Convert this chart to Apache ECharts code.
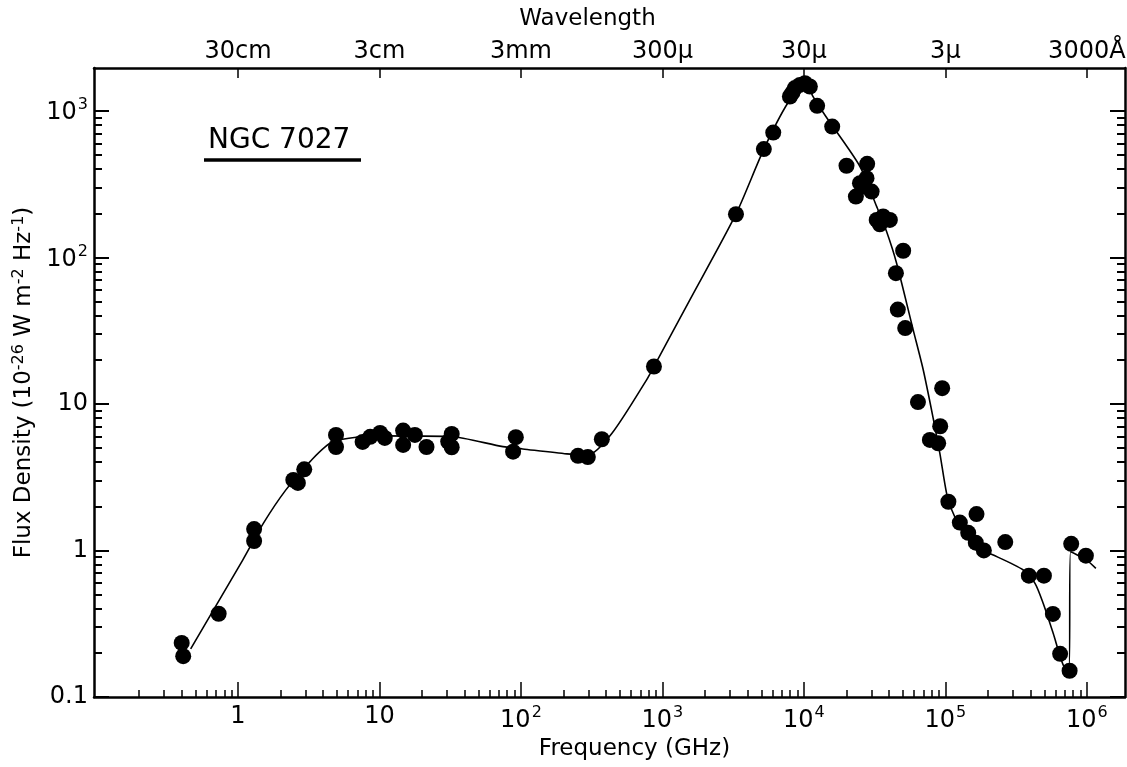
<!DOCTYPE html>
<html><head><meta charset="utf-8">
<script src="https://cdn.jsdelivr.net/npm/echarts@6.0.0/dist/echarts.min.js"></script>
<style>html,body{margin:0;padding:0;background:#fff}#c{width:1127px;height:767px}</style>
</head><body><div id="c"></div>
<script>
// Observed data points: frequency (GHz) and flux density (1e-26 W m^-2 Hz^-1)
const obsFreq = [
  0.40, 0.41, 0.73, 1.30, 1.30, 2.46, 2.65, 2.94, 4.93, 4.93,
  7.6, 8.6, 10.1, 10.9, 14.7, 14.7, 17.8, 21.5, 32.4, 30.6, 32.4,
  88, 92, 253, 297, 373, 871, 3310, 5210, 6070,
  7960, 8300, 8630, 9370, 10170, 11020, 12400, 15850, 20000, 28000,
  23300, 24900, 26100, 27700, 30100,
  32700, 34400, 36300, 40500,
  50300, 44700, 46100, 52000, 94900, 64000, 91900, 77700, 88900,
  105000, 126500, 166000, 145000, 164000, 187000, 265000, 389000, 497000,
  575000, 647000, 755000, 775000, 984000
];
const obsFlux = [
  0.234, 0.19, 0.37, 1.40, 1.16, 3.03, 2.89, 3.58, 6.14, 5.08,
  5.5, 5.96, 6.34, 5.86, 6.58, 5.25, 6.14, 5.08, 6.24, 5.53, 5.06,
  4.72, 5.93, 4.42, 4.34, 5.74, 18.0, 197, 548, 711,
  1253, 1330, 1430, 1503, 1545, 1466, 1081, 781, 422, 435,
  260, 321, 304, 347, 281,
  180, 168, 190, 180,
  111, 78, 44, 32.9, 12.8, 10.3, 7.04, 5.68, 5.39,
  2.15, 1.55, 1.77, 1.32, 1.13, 1.0, 1.14, 0.673, 0.673,
  0.369, 0.197, 0.151, 1.11, 0.922
];
// Hand-drawn fitted curve
const curveFreq = [0.463, 1.08, 1.51, 2.18, 3.23, 4.71, 10.1, 31.5, 74.6, 103, 211, 297, 440, 773, 871, 1563, 3306, 5210, 7710, 10330, 11580, 14300, 24900, 32700, 38400, 45200, 59200, 69700, 82000, 91400, 102000, 111000, 134000, 175000, 218000, 355000, 430000, 491000, 578000, 681000, 746000, 767000, 995000, 1158000];
const curveFlux = [0.213, 0.86, 1.53, 2.59, 4.04, 5.53, 6.05, 5.99, 5.11, 4.93, 4.56, 4.49, 6.31, 14.6, 18.0, 51.3, 197, 548, 1135, 1578, 1253, 914, 417, 222, 150, 91.2, 32, 17.1, 7.98, 4.6, 2.45, 1.89, 1.31, 1.01, 0.93, 0.736, 0.597, 0.436, 0.272, 0.165, 0.153, 0.98, 0.86, 0.755];

// Axis ticks and labels
const xMin = 0.096, xMax = 1.86e6;
const yMin = 0.1, yMax = 1960;
const xMajorTicks = [1, 10, 100, 1e3, 1e4, 1e5, 1e6];
const yMajorTicks = [0.1, 1, 10, 100, 1000];
const xDecades = [0.1, 1, 10, 100, 1e3, 1e4, 1e5];
const yDecades = [0.1, 1, 10, 100];
const minorMultipliers = [2, 3, 4, 5, 6, 7, 8, 9];
const wavelengthTicks = [1, 10, 100, 1e3, 1e4, 1e5, 1e6];
const wavelengthLabels = ['30cm', '3cm', '3mm', '300\u03bc', '30\u03bc', '3\u03bc', '3000\u00c5'];

const xMinorTicks = [], yMinorTicks = [];
xDecades.forEach(d => minorMultipliers.forEach(m => xMinorTicks.push(+(d * m).toPrecision(3))));
yDecades.forEach(d => minorMultipliers.forEach(m => yMinorTicks.push(+(d * m).toPrecision(3))));

const FONT = 'DejaVu Sans';
function powLabel(v) {
  const n = Math.round(Math.log10(v));
  if (n === -1) return '0.1';
  if (n === 0) return '1';
  if (n === 1) return '10';
  return '{b|10}{sup|' + n + '}';
}
const richSup = {
  b: { fontSize: 24, fontFamily: FONT, color: '#000', verticalAlign: 'bottom' },
  sup: { fontSize: 16, fontFamily: FONT, color: '#000', verticalAlign: 'bottom', padding: [0, 0, 12, 1] }
};
const lineStyle = { color: '#000', width: 2.5 };

function xAx(extra) {
  return Object.assign({ type: 'log', logBase: 10, min: xMin, max: xMax, splitLine: { show: false }, minorTick: { show: false } }, extra);
}
function yAx(extra) {
  return Object.assign({ type: 'log', logBase: 10, min: yMin, max: yMax, splitLine: { show: false }, minorTick: { show: false } }, extra);
}

const chart = echarts.init(document.getElementById('c'), null, { renderer: 'canvas' });
chart.setOption({
  backgroundColor: '#fff',
  animation: false,
  grid: { left: 94, right: 2, top: 68, bottom: 70, containLabel: false, outerBoundsMode: 'none' },
  xAxis: [
    xAx({
      position: 'bottom',
      axisLine: { show: true, lineStyle },
      axisTick: { show: true, inside: true, length: 15, customValues: xMajorTicks, lineStyle: { color: '#000', width: 1.5 } },
      axisLabel: { customValues: xMajorTicks, formatter: powLabel, color: '#000', fontSize: 24, fontFamily: FONT, margin: 8, rich: richSup },
      name: 'Frequency (GHz)', nameLocation: 'middle', nameGap: 40,
      nameTextStyle: { fontSize: 23, fontFamily: FONT, color: '#000', padding: [0, 0, 0, 50] }
    }),
    xAx({
      position: 'bottom',
      axisLine: { show: false },
      axisTick: { show: true, inside: true, length: 7, customValues: xMinorTicks, lineStyle: { color: '#000', width: 1.5 } },
      axisLabel: { show: false }
    }),
    xAx({
      position: 'top',
      axisLine: { show: true, lineStyle },
      axisTick: { show: true, inside: true, length: 10, customValues: wavelengthTicks, lineStyle: { color: '#000', width: 1.5 } },
      axisLabel: {
        customValues: wavelengthTicks, color: '#000', fontSize: 24, fontFamily: FONT, margin: 4,
        formatter: v => { const i = wavelengthTicks.findIndex(t => Math.abs(Math.log10(t) - Math.log10(v)) < 1e-6); return i >= 0 ? wavelengthLabels[i] : ''; }
      },
      name: 'Wavelength', nameLocation: 'middle', nameGap: 37,
      nameTextStyle: { fontSize: 23, fontFamily: FONT, color: '#000', padding: [0, 44, 0, 0] }
    })
  ],
  yAxis: [
    yAx({
      position: 'left',
      axisLine: { show: true, lineStyle },
      axisTick: { show: true, inside: true, length: 15, customValues: yMajorTicks, lineStyle: { color: '#000', width: 2 } },
      axisLabel: { customValues: yMajorTicks, formatter: powLabel, color: '#000', fontSize: 24, fontFamily: FONT, margin: 6, rich: richSup },
      name: 'Flux Density (10{sup|-26} W m{sup|-2} Hz{sup|-1})', nameLocation: 'middle', nameGap: 44, nameRotate: 90,
      nameTextStyle: {
        fontSize: 23, fontFamily: FONT, color: '#000',
        rich: { sup: { fontSize: 16, fontFamily: FONT, color: '#000', verticalAlign: 'bottom', padding: [0, 0, 11, 0] } }
      }
    }),
    yAx({
      position: 'left',
      axisLine: { show: false },
      axisTick: { show: true, inside: true, length: 8, customValues: yMinorTicks, lineStyle: { color: '#000', width: 2 } },
      axisLabel: { show: false }
    }),
    yAx({
      position: 'right',
      axisLine: { show: true, lineStyle },
      axisTick: { show: true, inside: true, length: 15, customValues: yMajorTicks, lineStyle: { color: '#000', width: 2 } },
      axisLabel: { show: false }
    }),
    yAx({
      position: 'right',
      axisLine: { show: false },
      axisTick: { show: true, inside: true, length: 8, customValues: yMinorTicks, lineStyle: { color: '#000', width: 2 } },
      axisLabel: { show: false }
    })
  ],
  series: [
    {
      type: 'line', xAxisIndex: 0, yAxisIndex: 0, z: 2,
      data: curveFreq.map((f, i) => [f, curveFlux[i]]),
      showSymbol: false, smooth: 0.25,
      lineStyle: { color: '#000', width: 1.6 }
    },
    {
      type: 'scatter', xAxisIndex: 0, yAxisIndex: 0, z: 3,
      data: obsFreq.map((f, i) => [f, obsFlux[i]]),
      symbol: 'circle', symbolSize: 16,
      itemStyle: { color: '#000', opacity: 1 }
    }
  ],
  graphic: [
    { type: 'text', left: 208, top: 127, style: { text: 'NGC 7027', fontSize: 28, fontFamily: FONT, fill: '#000' } },
    { type: 'line', shape: { x1: 204, y1: 160, x2: 361, y2: 160 }, style: { stroke: '#000', lineWidth: 3.5 } }
  ]
});
</script>
</body></html>
